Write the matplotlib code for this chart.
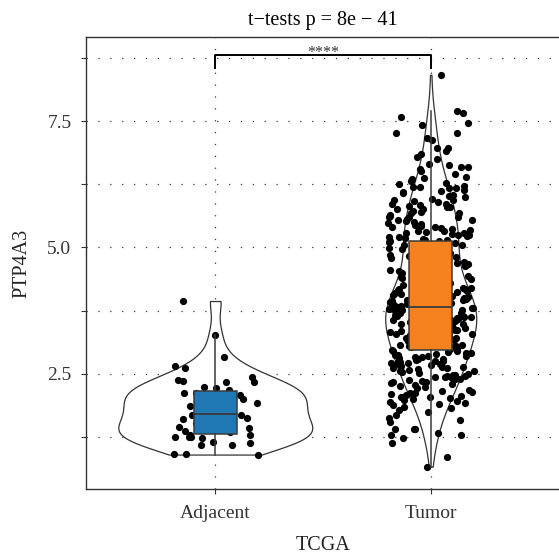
import matplotlib
matplotlib.use("Agg")
import matplotlib.pyplot as plt
import numpy as np

plt.rcParams['font.family'] = ['Liberation Serif', 'DejaVu Serif']

# data (PTP4A3 expression, TCGA)
groups = ["Adjacent", "Tumor"]
box_colors = ["#1f77b4", "#f5821f"]
title = "t\u2212tests p = 8e \u2212 41"
signif = "****"
x_label = "TCGA"
y_label = "PTP4A3"
y_ticks = [2.5, 5.0, 7.5]
y_minor = [1.25, 3.75, 6.25, 8.75]

adjacent = [
    3.94, 3.27, 2.84, 2.66, 2.61, 2.44, 2.37, 2.36, 2.33, 2.33,
    2.24, 2.22, 2.18, 2.12, 2.11, 2.08, 2.07, 2.05, 2.00, 1.97,
    1.92, 1.86, 1.85, 1.84, 1.72, 1.70, 1.69, 1.68, 1.63, 1.61,
    1.55, 1.53, 1.44, 1.42, 1.39, 1.37, 1.35, 1.29, 1.29, 1.25,
    1.24, 1.24, 1.23, 1.15, 1.13, 1.09, 1.08, 0.92, 0.91, 0.90,
]

tumor_low = [
    0.66, 0.86, 1.12, 1.29, 1.29, 1.32, 1.40, 1.40, 1.41, 1.22,
    1.55, 1.58, 1.75, 1.78, 1.83, 1.85, 1.88, 1.90, 1.93, 1.95,
    1.97, 1.99, 1.68, 1.62,
    2.00, 2.02, 2.04, 2.06, 2.08, 2.11, 2.12, 2.14, 2.18, 2.21,
    2.24, 2.28, 2.30, 2.31, 2.34, 2.36, 2.38, 2.40, 2.42, 2.44,
    2.44, 2.46, 2.48, 2.49, 2.03, 2.16, 2.26, 2.33, 2.39, 2.45,
    2.47, 2.10,
    2.51, 2.53, 2.55, 2.56, 2.58, 2.60, 2.61, 2.63, 2.64, 2.65,
    2.67, 2.68, 2.70, 2.71, 2.72, 2.74, 2.75, 2.76, 2.78, 2.79,
    2.80, 2.82, 2.83, 2.84, 2.86, 2.87, 2.88, 2.90, 2.91, 2.92,
    2.94, 2.95, 2.96, 2.62, 2.73, 2.85, 2.97,
]
tumor_mid = [
    2.98, 2.99, 3.01, 3.02, 3.02, 3.04, 3.05, 3.07, 3.08, 3.09,
    3.11, 3.12, 3.12, 3.14, 3.15, 3.17, 3.18, 3.19, 3.21, 3.22,
    3.23, 3.25, 3.26, 3.26, 3.28, 3.29, 3.31, 3.32, 3.33, 3.35,
    3.36, 3.37, 3.38, 3.40, 3.41, 3.42, 3.43, 3.44, 3.46, 3.47,
    3.48, 3.49, 3.50, 3.51, 3.53, 3.54, 3.55, 3.56, 3.57, 3.58,
    3.59, 3.60, 3.61, 3.62, 3.63, 3.64, 3.65, 3.66, 3.66, 3.67,
    3.68, 3.69, 3.70, 3.71, 3.71, 3.72, 3.73, 3.74, 3.75, 3.75,
    3.76, 3.77, 3.78, 3.78, 3.79, 3.80, 3.80, 3.81, 3.82, 3.82,
    3.10, 3.20, 3.30, 3.39, 3.45, 3.52, 3.06, 3.16, 3.27, 3.34,
    3.57, 3.63,
]
tumor_upper = [
    3.83, 3.84, 3.85, 3.86, 3.87, 3.88, 3.89, 3.90, 3.91, 3.92,
    3.93, 3.94, 3.95, 3.97, 3.98, 3.99, 4.00, 4.02, 4.03, 4.04,
    4.05, 4.07, 4.08, 4.09, 4.10, 4.12, 4.13, 4.15, 4.16, 4.17,
    4.19, 4.20, 4.22, 4.23, 4.25, 4.26, 4.28, 4.29, 4.31, 4.32,
    4.34, 4.35, 4.37, 4.39, 4.40, 4.42, 4.44, 4.45, 4.47, 4.49,
    4.51, 4.53, 4.54, 4.56, 4.58, 4.60, 4.62, 4.63, 4.65, 4.67,
    4.69, 4.71, 4.73, 4.75, 4.77, 4.79, 4.81, 4.83, 4.85, 4.87,
    4.89, 4.91, 4.93, 4.95, 4.97, 4.99, 5.01, 5.03, 5.05, 5.07,
    5.09, 5.11, 5.12, 5.13, 3.96, 4.06, 4.18, 4.30, 4.43, 4.57,
    4.72, 4.88, 5.04, 4.11,
]
tumor_high = [
    5.48, 5.46, 5.45, 5.43, 5.41, 5.40, 5.38, 5.36, 5.35, 5.33,
    5.32, 5.30, 5.29, 5.28, 5.26, 5.25, 5.24, 5.22, 5.21, 5.20,
    5.18, 5.17, 5.15, 5.14,
    5.97, 5.95, 5.95, 5.87, 5.86, 5.82, 5.81, 5.81, 5.77, 5.73,
    5.68, 5.68, 5.62, 5.61, 5.60, 5.60, 5.54, 5.54, 5.52, 5.50,
    5.90, 5.92, 5.84, 5.76, 5.70, 5.65, 5.57,
    6.40, 6.35, 6.32, 6.28, 6.22, 6.20, 6.20, 6.17, 6.17, 6.12,
    6.10, 6.08, 6.04, 6.02, 6.00, 6.45, 6.38, 6.25, 6.14,
    6.98, 6.98, 6.92, 6.85, 6.80, 6.76, 6.65, 6.63, 6.60, 6.59,
    6.52, 6.55,
    7.46, 7.43, 7.27, 7.26, 7.16, 7.13,
    7.71, 7.67, 7.59,
    8.42,
]
tumor = tumor_low + tumor_mid + tumor_upper + tumor_high


def bw_nrd0(v):
    q75, q25 = np.percentile(v, [75, 25])
    return 0.9 * min(v.std(ddof=1), (q75 - q25) / 1.34) * len(v) ** -0.2


def density(v, n=512):
    # gaussian kde over the data range (like a trimmed violin)
    grid = np.linspace(v.min(), v.max(), n)
    bw = bw_nrd0(v)
    z = (grid[:, None] - v[None, :]) / bw
    dens = np.exp(-0.5 * z ** 2).sum(axis=1) / (len(v) * bw * np.sqrt(2 * np.pi))
    return grid, dens


fig = plt.figure(figsize=(5.59, 5.58), dpi=100)
ax = fig.add_axes([86 / 559, 69 / 558, 474 / 559, 452 / 558])

data = [np.array(adjacent), np.array(tumor)]
pos = np.arange(1, len(groups) + 1)

# violins, scaled by area like ggplot
dens = [density(v) for v in data]
top = max(d.max() for g, d in dens)
for p, (g, d) in zip(pos, dens):
    w = d / top * 0.45
    ax.fill_betweenx(g, p - w, p + w, facecolor="white", edgecolor="#333333",
                     linewidth=0.9, zorder=2)

# jittered points (horizontal jitter only)
rng = np.random.default_rng(11)
for p, v in zip(pos, data):
    ax.scatter(p + rng.uniform(-0.2, 0.2, len(v)), v, s=27, color="black",
               linewidths=0, zorder=3)

line_c = "#3a3a3a"
bp = ax.boxplot(data, positions=pos, widths=0.2, patch_artist=True,
                showfliers=False, showcaps=False, whis=1.5, zorder=4,
                medianprops=dict(color=line_c, linewidth=1.3),
                boxprops=dict(edgecolor=line_c, linewidth=1.1),
                whiskerprops=dict(color=line_c, linewidth=1.1))
for patch, c in zip(bp["boxes"], box_colors):
    patch.set_facecolor(c)

# significance bracket
ax.plot([1, 1, 2, 2], [8.56, 8.81, 8.81, 8.56], color="black", linewidth=1.4,
        zorder=5)
ax.text(1.5, 8.86, signif, ha="center", va="center", fontsize=11.5, color="#333333")

ax.set_xlim(0.4, 2.6)
ax.set_ylim(0.218, 9.168)
ax.set_xticks(pos)
ax.set_xticklabels(groups)
ax.set_yticks(y_ticks)
ax.set_yticklabels([f"{t:.1f}" for t in y_ticks])
ax.set_yticks(y_minor, minor=True)

dots = (0, (1, 8.5))
ax.grid(True, which="both", axis="y", linestyle=dots, color="#3a3a3a", linewidth=0.9)
ax.grid(True, which="major", axis="x", linestyle=dots, color="#3a3a3a", linewidth=0.9)
ax.set_axisbelow(True)

ax.tick_params(which="both", direction="out", length=3.5, width=0.8,
               colors="#333333", labelsize=14)
ax.tick_params(axis="y", pad=7)
ax.tick_params(axis="x", pad=8)
for s in ax.spines.values():
    s.set_color("#333333")
    s.set_linewidth(1.0)

ax.set_title(title, fontsize=14.5, pad=9)
ax.set_xlabel(x_label, fontsize=14.5, labelpad=10, color="#222222")
ax.set_ylabel(y_label, fontsize=14.5, labelpad=11, color="#222222")

fig.savefig("out.png", dpi=100)
